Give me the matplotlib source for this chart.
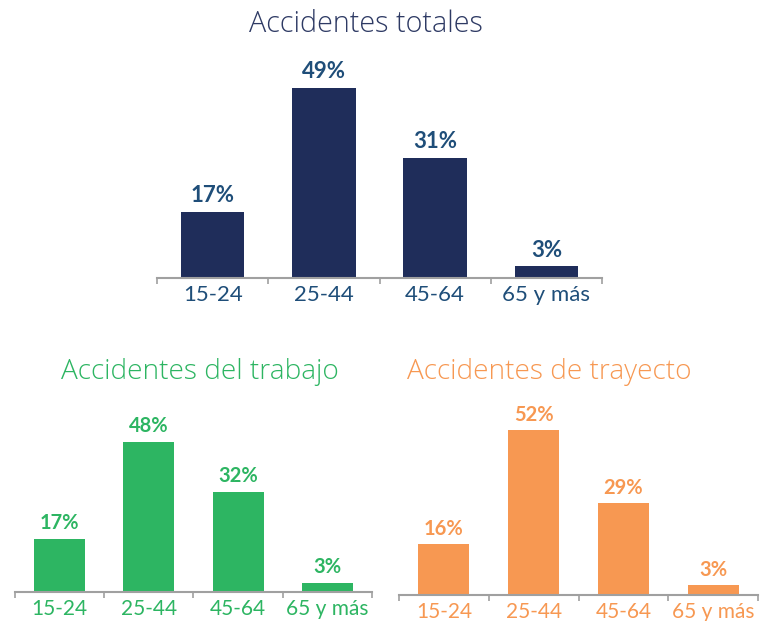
import matplotlib
matplotlib.use("Agg")
import matplotlib.pyplot as plt

plt.rcParams["font.family"] = ["Lato", "DejaVu Sans"]

W, H = 764, 621

grupos = ["15-24", "25-44", "45-64", "65 y más"]
totales = [17, 49, 31, 3]
trabajo = [17, 48, 32, 3]
trayecto = [16, 52, 29, 3]

NAVY = "#1F2D5A"
NAVY_TXT = "#1F4E79"
GREEN = "#2DB562"
ORANGE = "#F79852"
AXIS = "#A0A0A0"
TITLE_FONT = ["Open Sans", "DejaVu Sans"]


def px_axes(fig, x0, x1, y_base, y_top):
    # pixel box -> figure fraction
    return fig.add_axes([x0 / W, (H - y_base) / H, (x1 - x0) / W, (y_base - y_top) / H])


def bar_panel(ax, vals, color, txt_color, lab_color, px_per, height_px, tick_fs, val_fs):
    x = range(len(vals))
    bars = ax.bar(x, vals, width=0.57, color=color)
    ax.set_xlim(-0.5, len(vals) - 0.5)
    ax.set_ylim(0, height_px / px_per)
    for b, v in zip(bars, vals):
        ax.annotate(f"{v}%", (b.get_x() + b.get_width() / 2, v), xytext=(0, 4),
                    textcoords="offset points", ha="center", va="bottom",
                    fontsize=val_fs, fontweight="bold", color=txt_color)
    for s in ["top", "right", "left"]:
        ax.spines[s].set_visible(False)
    ax.spines["bottom"].set_color(AXIS)
    ax.spines["bottom"].set_linewidth(1.5)
    ax.set_yticks([])
    ax.set_xticks(list(x))
    ax.set_xticklabels(grupos, fontsize=tick_fs, color=lab_color)
    ax.tick_params(axis="x", which="major", length=0, pad=5)
    ax.set_xticks([i - 0.5 for i in range(len(vals) + 1)], minor=True)
    ax.tick_params(axis="x", which="minor", length=4, width=1.2, color=AXIS)


fig = plt.figure(figsize=(W / 100, H / 100), dpi=100)

ax1 = px_axes(fig, 157, 602, 278, 60)
bar_panel(ax1, totales, NAVY, NAVY_TXT, NAVY_TXT, 3.88, 218, 16, 16)
fig.text(366 / W, 1 - 32 / H, "Accidentes totales", ha="center", va="baseline",
         fontsize=20.7, fontweight=300, family=TITLE_FONT, color="#2E3A64")

ax2 = px_axes(fig, 15, 372, 592, 400)
bar_panel(ax2, trabajo, GREEN, GREEN, GREEN, 3.125, 192, 15, 14.5)
fig.text(200 / W, 1 - 379 / H, "Accidentes del trabajo", ha="center", va="baseline",
         fontsize=20.2, fontweight=300, family=TITLE_FONT, color=GREEN)

ax3 = px_axes(fig, 399, 758, 595, 400)
bar_panel(ax3, trayecto, ORANGE, ORANGE, ORANGE, 3.17, 195, 15, 14.5)
fig.text(549 / W, 1 - 379 / H, "Accidentes de trayecto", ha="center", va="baseline",
         fontsize=20.2, fontweight=300, family=TITLE_FONT, color=ORANGE)

fig.savefig("out.png", dpi=100)
